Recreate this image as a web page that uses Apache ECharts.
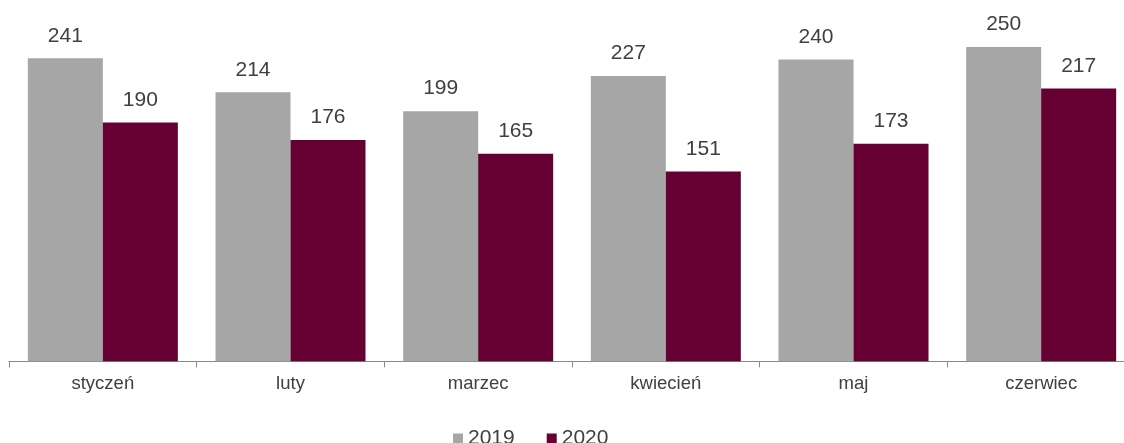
<!DOCTYPE html>
<html>
<head>
<meta charset="utf-8">
<script src="https://cdn.jsdelivr.net/npm/echarts@6/dist/echarts.min.js"></script>
<style>
  html, body { margin: 0; padding: 0; background: #ffffff; }
  #chart { width: 1124px; height: 443px; }
</style>
</head>
<body>
<div id="chart"></div>
<script>
// Months (Polish) and monthly values for the two years
const months = ['styczeń', 'luty', 'marzec', 'kwiecień', 'maj', 'czerwiec'];
const values2019 = [241, 214, 199, 227, 240, 250];
const values2020 = [190, 176, 165, 151, 173, 217];
const seriesNames = ['2019', '2020'];

const chart = echarts.init(document.getElementById('chart'), null, { renderer: 'canvas' });

const labelStyle = {
  show: true,
  position: 'top',
  distance: 12,
  color: '#404040',
  fontFamily: 'Liberation Sans, Arial, sans-serif',
  fontSize: 21,
  lineHeight: 21
};

chart.setOption({
  animation: false,
  // the category axis runs a little past the right edge of the canvas
  grid: { left: 9, top: 9.3, right: -11, bottom: 81.7, containLabel: false, outerBoundsMode: 'none' },
  legend: {
    data: seriesNames,
    bottom: -6,
    left: 453,
    icon: 'rect',
    itemWidth: 10,
    itemHeight: 10,
    itemGap: 32,
    padding: 0,
    textStyle: {
      color: '#404040',
      fontFamily: 'Liberation Sans, Arial, sans-serif',
      fontSize: 21
    }
  },
  xAxis: {
    type: 'category',
    data: months,
    boundaryGap: true,
    axisLine: { lineStyle: { color: '#898989', width: 1 } },
    axisTick: { show: true, length: 6, lineStyle: { color: '#898989' } },
    axisLabel: {
      color: '#404040',
      fontFamily: 'Liberation Sans, Arial, sans-serif',
      fontSize: 18.5,
      margin: 13
    }
  },
  yAxis: {
    type: 'value',
    min: 0,
    max: 280,
    show: false,
    splitLine: { show: false }
  },
  series: [
    {
      name: seriesNames[0],
      type: 'bar',
      data: values2019,
      barWidth: 75,
      barGap: '0%',
      itemStyle: { color: '#a6a6a6' },
      label: labelStyle
    },
    {
      name: seriesNames[1],
      type: 'bar',
      data: values2020,
      barWidth: 75,
      barGap: '0%',
      itemStyle: { color: '#660033' },
      label: labelStyle
    }
  ]
});
</script>
</body>
</html>
